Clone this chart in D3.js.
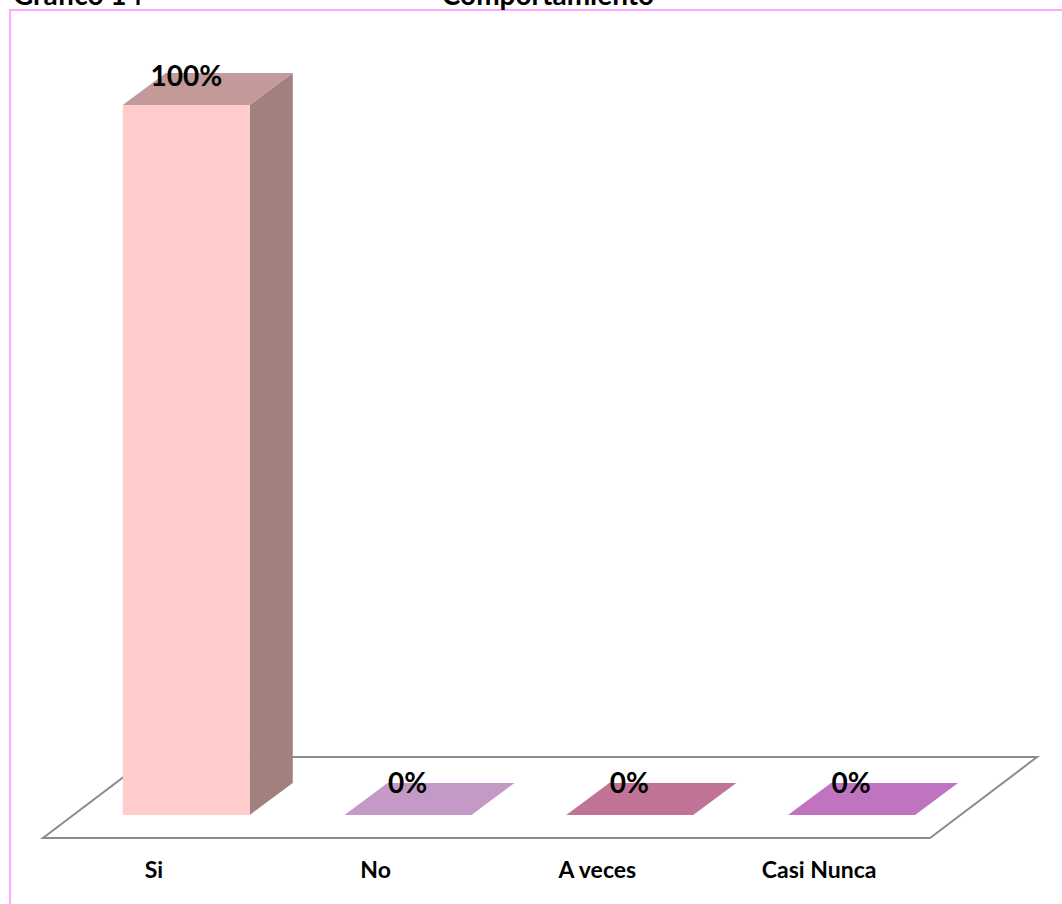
<!DOCTYPE html>
<html>
<head>
<meta charset="utf-8">
<script src="https://cdn.jsdelivr.net/npm/d3@7/dist/d3.min.js"></script>
<style>
  html, body { margin: 0; padding: 0; background: #fff; }
  svg { display: block; }
  text { font-family: Lato, "Open Sans", sans-serif; font-weight: bold; }
</style>
</head>
<body>
<svg id="chart" width="1062" height="904"></svg>
<script>
// Survey answers and their shares (percent)
const categories = ["Si", "No", "A veces", "Casi Nunca"];
const values = [100, 0, 0, 0];
const valueLabels = ["100%", "0%", "0%", "0%"];
const frontColors = ["#FFCCCC", "#C39AC5", "#C07396", "#C073C0"];
const topColors = ["#C49999", "#C39AC5", "#C07396", "#C073C0"];
const sideColors = ["#A1807E", "#A1807E", "#A1807E", "#A1807E"];

const svg = d3.select("#chart");

// Frame and title
svg.append("rect")
  .attr("x", 10).attr("y", 10).attr("width", 1070).attr("height", 920)
  .attr("fill", "none").attr("stroke", "#FFA8FF").attr("stroke-width", 2);
svg.append("text").attr("x", 13).attr("y", 5).attr("font-size", 28).text("Gráfico 14");
svg.append("text").attr("x", 548).attr("y", 5).attr("font-size", 28)
  .attr("text-anchor", "middle").text("Comportamiento");

// Oblique projection of the floor: front edge and depth offset
const floorFrontY = 838, floorLeft = 43, floorRight = 930;
const floorDx = 107, floorDy = -81;
const barDx = 43, barDy = -32;       // depth of each bar
const barFrontShift = 23;            // vertical distance from floor front to bar front

const x = d3.scaleBand().domain(categories).range([floorLeft, floorRight]).paddingInner(0).paddingOuter(0);
const barFrontY = floorFrontY - barFrontShift;
const shiftX = barFrontShift * floorDx / -floorDy + 2;
const barWidth = 127;
const y = d3.scaleLinear().domain([0, 100]).range([barFrontY, 105]);

// Floor
svg.append("path")
  .attr("d", d3.line()([
    [floorLeft, floorFrontY], [floorRight, floorFrontY],
    [floorRight + floorDx, floorFrontY + floorDy], [floorLeft + floorDx, floorFrontY + floorDy]
  ]) + "Z")
  .attr("fill", "#fff").attr("stroke", "#8C8C8C").attr("stroke-width", 2);

const bars = svg.append("g").selectAll("g").data(categories).join("g");

bars.each(function(c, i) {
  const g = d3.select(this);
  const x0 = x(c) + shiftX + (x.bandwidth() - barWidth) / 2;
  const x1 = x0 + barWidth;
  const yb = barFrontY, yt = y(values[i]);
  const poly = pts => d3.line()(pts) + "Z";
  if (values[i] > 0) {
    // right side
    g.append("path").attr("d", poly([[x1, yb], [x1 + barDx, yb + barDy], [x1 + barDx, yt + barDy], [x1, yt]]))
      .attr("fill", sideColors[i]);
    // front
    g.append("path").attr("d", poly([[x0, yb], [x1, yb], [x1, yt], [x0, yt]]))
      .attr("fill", frontColors[i]);
  }
  // top
  g.append("path").attr("d", poly([[x0, yt], [x1, yt], [x1 + barDx, yt + barDy], [x0 + barDx, yt + barDy]]))
    .attr("fill", topColors[i]);
  // value label
  g.append("text")
    .attr("x", x0 + barWidth / 2 + (values[i] > 0 ? 0 : barDx / 2 - 22))
    .attr("y", yt + barDy + (values[i] > 0 ? 13 : 10))
    .attr("text-anchor", "middle").attr("font-size", 28).attr("fill", "#000")
    .text(valueLabels[i]);
});

// Category axis along the front edge of the floor
const axis = svg.append("g")
  .attr("transform", `translate(0,${floorFrontY})`)
  .call(d3.axisBottom(x).tickSize(0).tickPadding(24));
axis.select(".domain").remove();
axis.selectAll("text")
  .attr("font-size", 23).attr("font-family", "Lato, sans-serif").attr("font-weight", "bold")
  .attr("fill", "#000");
</script>
</body>
</html>
